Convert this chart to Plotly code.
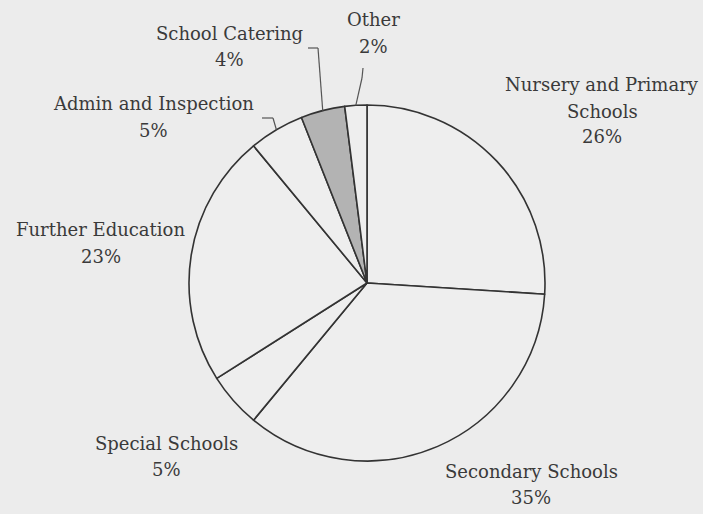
import math
import plotly.graph_objects as go

# Spending shares by sector (percent), clockwise from 12 o'clock
categories = [
    "Nursery and Primary Schools",
    "Secondary Schools",
    "Special Schools",
    "Further Education",
    "Admin and Inspection",
    "School Catering",
    "Other",
]
shares = [26, 35, 5, 23, 5, 4, 2]
label_lines = [
    ["Nursery and Primary", "Schools"],
    ["Secondary Schools"],
    ["Special Schools"],
    ["Further Education"],
    ["Admin and Inspection"],
    ["School Catering"],
    ["Other"],
]

W, H = 703, 514
BG = "#ececec"
INK = "#3a3a3a"
FONT = "DejaVu Serif"
FS = 18
LINE_GAP = 26  # px between label lines

# Pie placement in pixels
cx, cy, r = 367, 283, 178
dom_x = [(cx - r) / W, (cx + r) / W]
dom_y = [1 - (cy + r) / H, 1 - (cy - r) / H]

fills = ["#eeeeee"] * len(shares)
fills[categories.index("School Catering")] = "#b3b3b3"

fig = go.Figure(
    go.Pie(
        labels=categories,
        values=shares,
        sort=False,
        direction="clockwise",
        rotation=0,
        textinfo="none",
        hoverinfo="label+percent",
        marker=dict(colors=fills, line=dict(color="#333333", width=1.6)),
        domain=dict(x=dom_x, y=dom_y),
        showlegend=False,
    )
)

# Label block centres (px) and optional leader elbow points (px)
label_pos = {
    "Nursery and Primary Schools": (602, 111),
    "Secondary Schools": (531, 484),
    "Special Schools": (166, 456),
    "Further Education": (101, 243),
    "Admin and Inspection": (153, 117),
    "School Catering": (229, 46),
    "Other": (373, 33),
}
leaders = {
    "Admin and Inspection": [(262, 118), (273, 118)],
    "School Catering": [(308, 48), (318, 48)],
    "Other": [(363, 68), (362, 78)],
}


def to_paper(px, py):
    return px / W, 1 - py / H


total = sum(shares)
cum = 0.0
annotations = []
shapes = []
for name, val, lines in zip(categories, shares, label_lines):
    mid = (cum + val / 2) / total * 2 * math.pi
    cum += val
    pct = round(val / total * 100)
    rows = lines + [f"{pct}%"]
    lx, ly = label_pos[name]
    top = ly - LINE_GAP * (len(rows) - 1) / 2
    for i, row in enumerate(rows):
        ax_, ay_ = to_paper(lx, top + i * LINE_GAP)
        annotations.append(
            dict(
                x=ax_, y=ay_, xref="paper", yref="paper",
                text=row, showarrow=False, align="center",
                xanchor="center", yanchor="middle",
                font=dict(family=FONT, size=FS, color=INK),
            )
        )
    if name in leaders:
        pts = leaders[name] + [(cx + r * math.sin(mid), cy - r * math.cos(mid))]
        for (x0, y0), (x1, y1) in zip(pts[:-1], pts[1:]):
            p0 = to_paper(x0, y0)
            p1 = to_paper(x1, y1)
            shapes.append(
                dict(type="line", xref="paper", yref="paper",
                     x0=p0[0], y0=p0[1], x1=p1[0], y1=p1[1],
                     line=dict(color="#555555", width=1.2))
            )

fig.update_layout(
    width=W, height=H,
    margin=dict(l=0, r=0, t=0, b=0),
    paper_bgcolor=BG, plot_bgcolor=BG,
    annotations=annotations, shapes=shapes,
)

fig.write_html("out.html")
